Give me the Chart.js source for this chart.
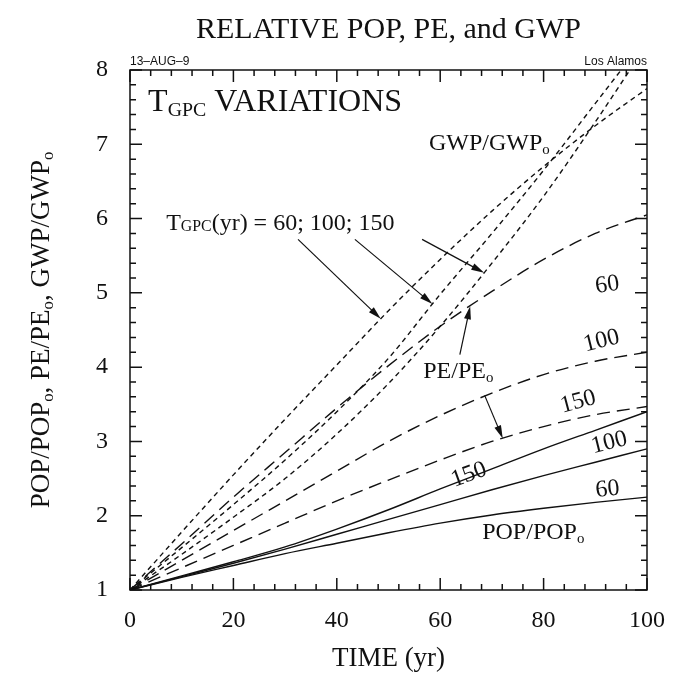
<!DOCTYPE html>
<html>
<head>
<meta charset="utf-8">
<script src="https://cdn.jsdelivr.net/npm/chart.js@4.4.0/dist/chart.umd.min.js"></script>
<style>
  html, body { margin: 0; padding: 0; background: #fff; }
  #wrap { width: 673px; height: 681px; }
</style>
</head>
<body>
<div id="wrap"><canvas id="chart" width="673" height="681"></canvas></div>
<script>
// time axis (yr) and ratios to the year-0 values
const years = [0, 10, 20, 30, 40, 50, 60, 70, 80, 90, 100];

const gwp60  = [1, 1.78, 2.55, 3.30, 4.03, 4.76, 5.45, 6.10, 6.70, 7.25, 7.75];
const gwp100 = [1, 1.57, 2.15, 2.75, 3.40, 4.12, 4.98, 5.80, 6.65, 7.55, 8.45];
const gwp150 = [1, 1.48, 1.98, 2.50, 3.10, 3.78, 4.55, 5.40, 6.30, 7.30, 8.35];

const pe60   = [1, 1.62, 2.25, 2.85, 3.45, 4.02, 4.55, 5.02, 5.45, 5.80, 6.05];
const pe100  = [1, 1.40, 1.80, 2.20, 2.60, 3.00, 3.35, 3.65, 3.90, 4.08, 4.20];
const pe150  = [1, 1.30, 1.60, 1.90, 2.20, 2.48, 2.75, 3.00, 3.20, 3.36, 3.47];

const pop60  = [1, 1.17, 1.33, 1.49, 1.63, 1.77, 1.90, 2.01, 2.10, 2.18, 2.25];
const pop100 = [1, 1.18, 1.36, 1.55, 1.75, 1.95, 2.15, 2.35, 2.54, 2.72, 2.90];
const pop150 = [1, 1.19, 1.38, 1.58, 1.82, 2.08, 2.36, 2.63, 2.90, 3.15, 3.40];

const xTicks = [0, 20, 40, 60, 80, 100];
const yTicks = [1, 2, 3, 4, 5, 6, 7, 8];

const INK = '#111';
const SERIF = '"Liberation Serif", "DejaVu Serif", serif';
const SANS = '"Liberation Sans", "DejaVu Sans", sans-serif';

const SHORT_DASH = [5, 4];
const LONG_DASH = [13, 7];

function series(label, vals, dash) {
  return {
    label,
    data: years.map((t, i) => ({ x: t, y: vals[i] })),
    borderColor: INK,
    borderWidth: 1.4,
    borderDash: dash,
    pointRadius: 0,
    cubicInterpolationMode: 'monotone',
    fill: false,
    clip: 0
  };
}

// text runs: [text, 'sub'] for a lowered small part
function richWidth(ctx, runs, size) {
  let w = 0;
  runs.forEach(([txt, mode]) => {
    const s = mode ? size * (mode === 'sub' ? 0.62 : 0.66) : size;
    ctx.font = `${s}px ${SERIF}`;
    w += ctx.measureText(txt).width;
  });
  return w;
}

function drawRich(ctx, x, y, runs, size, align) {
  const w = richWidth(ctx, runs, size);
  let cx = align === 'center' ? x - w / 2 : align === 'right' ? x - w : x;
  ctx.textBaseline = 'alphabetic';
  ctx.textAlign = 'left';
  runs.forEach(([txt, mode]) => {
    let s = size, dy = 0;
    if (mode === 'sub') { s = size * 0.62; dy = size * 0.16; }
    if (mode === 'caps') { s = size * 0.66; dy = size * 0.04; }
    ctx.font = `${s}px ${SERIF}`;
    ctx.fillText(txt, cx, y + dy);
    cx += ctx.measureText(txt).width;
  });
}

function arrow(ctx, x0, y0, x1, y1) {
  const ang = Math.atan2(y1 - y0, x1 - x0);
  const hl = 13, hw = 3.5;
  ctx.beginPath();
  ctx.moveTo(x0, y0);
  ctx.lineTo(x1 - Math.cos(ang) * hl * 0.8, y1 - Math.sin(ang) * hl * 0.8);
  ctx.stroke();
  ctx.beginPath();
  ctx.moveTo(x1, y1);
  ctx.lineTo(x1 - Math.cos(ang) * hl - Math.sin(ang) * hw, y1 - Math.sin(ang) * hl + Math.cos(ang) * hw);
  ctx.lineTo(x1 - Math.cos(ang) * hl + Math.sin(ang) * hw, y1 - Math.sin(ang) * hl - Math.cos(ang) * hw);
  ctx.closePath();
  ctx.fill();
}

// labels placed in data units [t, value]
const notes = [
  { at: [3.5, 7.45], size: 32, runs: [['T'], ['GPC', 'sub'], [' VARIATIONS']] },
  { at: [69.5, 6.92], size: 24, align: 'center', runs: [['GWP/GWP'], ['o', 'sub']] },
  { at: [7, 5.85], size: 24, runs: [['T'], ['GPC', 'caps'], ['(yr) = 60; 100; 150']] },
  { at: [92.5, 5.02], size: 24, align: 'center', rot: -8, runs: [['60']] },
  { at: [91.5, 4.27], size: 24, align: 'center', rot: -14, runs: [['100']] },
  { at: [87, 3.45], size: 24, align: 'center', rot: -15, runs: [['150']] },
  { at: [63.5, 3.85], size: 24, align: 'center', runs: [['PE/PE'], ['o', 'sub']] },
  { at: [66, 2.47], size: 24, align: 'center', rot: -20, runs: [['150']] },
  { at: [93, 2.9], size: 24, align: 'center', rot: -14, runs: [['100']] },
  { at: [92.5, 2.27], size: 24, align: 'center', rot: -6, runs: [['60']] },
  { at: [78, 1.68], size: 24, align: 'center', runs: [['POP/POP'], ['o', 'sub']] }
];

const pointers = [
  [[32.5, 5.72], [48.5, 4.65]],
  [[43.5, 5.72], [58.5, 4.85]],
  [[56.5, 5.72], [68.5, 5.27]],
  [[63.8, 4.17], [65.8, 4.82]],
  [[68.6, 3.62], [72.1, 3.04]]
];

const decorations = {
  id: 'decorations',
  afterDatasetsDraw(chart) {
    const { ctx, chartArea: a, scales: { x, y } } = chart;
    ctx.save();
    ctx.strokeStyle = INK;
    ctx.fillStyle = INK;

    // frame with inward ticks on all four sides
    ctx.lineWidth = 1.5;
    ctx.strokeRect(a.left, a.top, a.right - a.left, a.bottom - a.top);
    ctx.beginPath();
    for (let t = 0; t <= 100; t += 4) {
      const px = x.getPixelForValue(t);
      const len = xTicks.includes(t) ? 12 : 6;
      ctx.moveTo(px, a.bottom); ctx.lineTo(px, a.bottom - len);
      ctx.moveTo(px, a.top); ctx.lineTo(px, a.top + len);
    }
    for (let k = 0; k <= 35; k++) {
      const py = y.getPixelForValue(1 + k * 0.2);
      const len = k % 5 === 0 ? 12 : 6;
      ctx.moveTo(a.left, py); ctx.lineTo(a.left + len, py);
      ctx.moveTo(a.right, py); ctx.lineTo(a.right - len, py);
    }
    ctx.stroke();

    // header stamps
    ctx.font = `12px ${SANS}`;
    ctx.textBaseline = 'alphabetic';
    ctx.textAlign = 'left';
    ctx.fillText('13\u2013AUG\u20139', a.left, a.top - 5);
    ctx.textAlign = 'right';
    ctx.fillText('Los Alamos', a.right, a.top - 5);

    // curve labels
    notes.forEach(n => {
      const px = x.getPixelForValue(n.at[0]);
      const py = y.getPixelForValue(n.at[1]);
      ctx.save();
      ctx.translate(px, py);
      if (n.rot) ctx.rotate(n.rot * Math.PI / 180);
      drawRich(ctx, 0, 0, n.runs, n.size, n.align || 'left');
      ctx.restore();
    });

    // arrows
    ctx.lineWidth = 1.2;
    pointers.forEach(([p0, p1]) => {
      arrow(ctx,
        x.getPixelForValue(p0[0]), y.getPixelForValue(p0[1]),
        x.getPixelForValue(p1[0]), y.getPixelForValue(p1[1]));
    });

    // vertical axis title
    ctx.save();
    ctx.translate(40, (a.top + a.bottom) / 2);
    ctx.rotate(-Math.PI / 2);
    drawRich(ctx, 0, 9, [['POP/POP'], ['o', 'sub'], [', PE/PE'], ['o', 'sub'], [', GWP/GWP'], ['o', 'sub']], 27, 'center');
    ctx.restore();

    ctx.restore();
  }
};

new Chart(document.getElementById('chart'), {
  type: 'line',
  data: {
    datasets: [
      series('GWP 60', gwp60, SHORT_DASH),
      series('GWP 100', gwp100, SHORT_DASH),
      series('GWP 150', gwp150, SHORT_DASH),
      series('PE 60', pe60, LONG_DASH),
      series('PE 100', pe100, LONG_DASH),
      series('PE 150', pe150, LONG_DASH),
      series('POP 60', pop60, []),
      series('POP 100', pop100, []),
      series('POP 150', pop150, [])
    ]
  },
  options: {
    responsive: false,
    animation: false,
    devicePixelRatio: 1,
    layout: { padding: { top: 0, right: 23, bottom: 0, left: 0 } },
    plugins: {
      legend: { display: false },
      tooltip: { enabled: false },
      title: {
        display: true,
        fullSize: false,
        text: 'RELATIVE POP, PE, and GWP',
        color: INK,
        font: { family: SERIF, size: 30, weight: 'normal', lineHeight: 1.2 },
        padding: { top: 12, bottom: 22 }
      }
    },
    scales: {
      x: {
        type: 'linear',
        min: 0,
        max: 100,
        afterFit: s => { s.height = 91; },
        afterBuildTicks: s => { s.ticks = xTicks.map(v => ({ value: v })); },
        ticks: { color: INK, font: { family: SERIF, size: 24 }, padding: 8, maxRotation: 0 },
        grid: { display: false },
        border: { display: false },
        title: {
          display: true,
          text: 'TIME (yr)',
          color: INK,
          font: { family: SERIF, size: 27 },
          padding: { top: 0, bottom: 6 }
        }
      },
      y: {
        type: 'linear',
        min: 1,
        max: 8,
        afterFit: s => { s.width = 130; },
        afterBuildTicks: s => { s.ticks = yTicks.map(v => ({ value: v })); },
        ticks: { color: INK, font: { family: SERIF, size: 24 }, padding: 14 },
        grid: { display: false },
        border: { display: false }
      }
    }
  },
  plugins: [decorations]
});
</script>
</body>
</html>
